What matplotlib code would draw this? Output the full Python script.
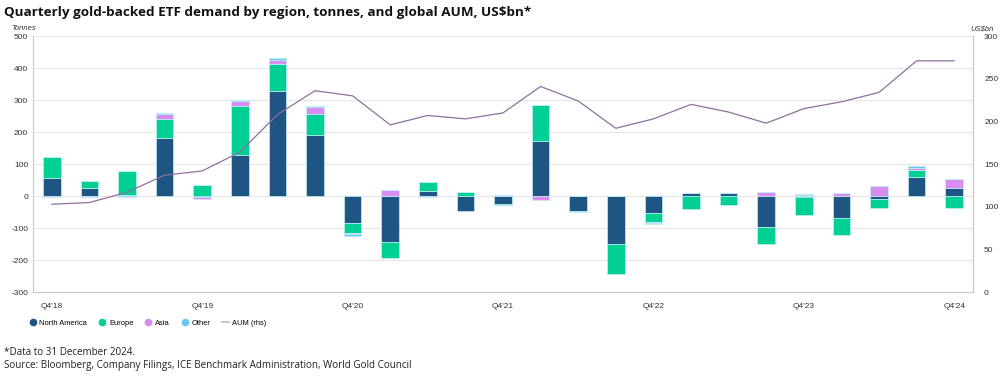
import numpy as np
import matplotlib.pyplot as plt
from matplotlib.lines import Line2D

quarters = ["Q4'18", "Q1'19", "Q2'19", "Q3'19", "Q4'19", "Q1'20", "Q2'20", "Q3'20",
            "Q4'20", "Q1'21", "Q2'21", "Q3'21", "Q4'21", "Q1'22", "Q2'22", "Q3'22",
            "Q4'22", "Q1'23", "Q2'23", "Q3'23", "Q4'23", "Q1'24", "Q2'24", "Q3'24", "Q4'24"]

north_america = [57, 26, 4, 183, -4, 129, 328, 191, -85, -144, 16, -45, -26, 172, -45, -149,
                 -52, 11, 10, -95, -4, -67, -8, 60, 26]
europe = [64, 21, 75, 58, 34, 152, 86, 66, -31, -50, 28, 12, -2, 113, -3, -93,
          -30, -39, -29, -55, -56, -53, -30, 22, -36]
asia = [-4, -4, -4, 15, -4, 15, 12, 20, -3, 19, -2, 2, 4, -13, 0, 0,
        -1, 0, 0, 13, 5, 10, 32, 7, 29]
other = [0, 0, 0, 5, 0, 4, 5, 5, -5, 0, 0, 0, 0, 0, -1, 0,
         -4, 0, 0, 0, 2, 0, 0, 5, 0]
aum = [103, 105, 117, 137, 142, 164, 208, 236, 230, 196, 207, 203, 210, 241, 224, 192,
       203, 220, 211, 198, 215, 223, 234, 271, 271]

colors = ["#1f5582", "#00d093", "#d98cf2", "#6cc6f2"]
names = ["North America", "Europe", "Asia", "Other"]

plt.rcParams['font.family'] = ['Liberation Sans', 'DejaVu Sans']
plt.rcParams['axes.unicode_minus'] = False

fig = plt.figure(figsize=(10, 3.76), dpi=100)
ax = fig.add_axes([0.033, 0.223, 0.94, 0.681])

x = np.arange(len(quarters))
pos_base = np.zeros(len(x))
neg_base = np.zeros(len(x))
for vals, c in zip([north_america, europe, asia, other], colors):
    v = np.array(vals, dtype=float)
    bottom = np.where(v >= 0, pos_base, neg_base)
    ax.bar(x, v, 0.47, bottom=bottom, color=c, edgecolor="#bfeff5", linewidth=0.5, zorder=3)
    pos_base += np.where(v >= 0, v, 0)
    neg_base += np.where(v < 0, v, 0)

ax.set_xlim(-0.5, len(x) - 0.5)
ax.set_ylim(-300, 500)
ax.set_yticks(np.arange(-300, 501, 100))
ax.set_xticks(x[::4])
ax.set_xticklabels(quarters[::4])
ax.grid(axis="y", color="#e6e6e6", linewidth=0.8, zorder=0)
ax.set_axisbelow(True)
for s in ["left", "bottom", "right"]:
    ax.spines[s].set_color("#c8c8c8")
ax.spines["top"].set_visible(False)
ax.tick_params(axis="both", length=0, labelsize=6, colors="#333333")
ax.tick_params(axis="x", pad=8)

ax2 = ax.twinx()
ax2.plot(x, aum, color="#8f6f9f", linewidth=0.9, zorder=4)
ax2.set_ylim(0, 300)
ax2.set_yticks(np.arange(0, 301, 50))
ax2.tick_params(axis="y", length=0, labelsize=6, colors="#333333", pad=8)
for s in ["left", "bottom", "top"]:
    ax2.spines[s].set_visible(False)
ax2.spines["right"].set_color("#c8c8c8")

fig.text(0.011, 0.92, "Tonnes", fontsize=5.5, style="italic", color="#333333")
fig.text(0.994, 0.92, "US$bn", fontsize=5.5, style="italic", color="#333333", ha="right")

fig.text(0.004, 0.968, "Quarterly gold-backed ETF demand by region, tonnes, and global AUM, US$bn*",
         fontsize=9.7, fontweight="bold", family="Open Sans", color="#111111", va="center")

handles = [Line2D([], [], marker="o", linestyle="", markersize=4.5, color=c) for c in colors]
handles.append(Line2D([], [], color="#c8b4d4", linewidth=1.2))
fig.legend(handles, names + ["AUM (rhs)"], loc="center left", bbox_to_anchor=(0.022, 0.14),
           ncol=5, frameon=False, fontsize=5.4, handlelength=1.0, handletextpad=0.4,
           columnspacing=1.5)

fig.text(0.004, 0.045, "*Data to 31 December 2024.\nSource: Bloomberg, Company Filings, ICE Benchmark Administration, World Gold Council",
         fontsize=7.1, family="Open Sans", color="#222222", va="center", linespacing=1.15)

fig.savefig("out.png", dpi=100)
